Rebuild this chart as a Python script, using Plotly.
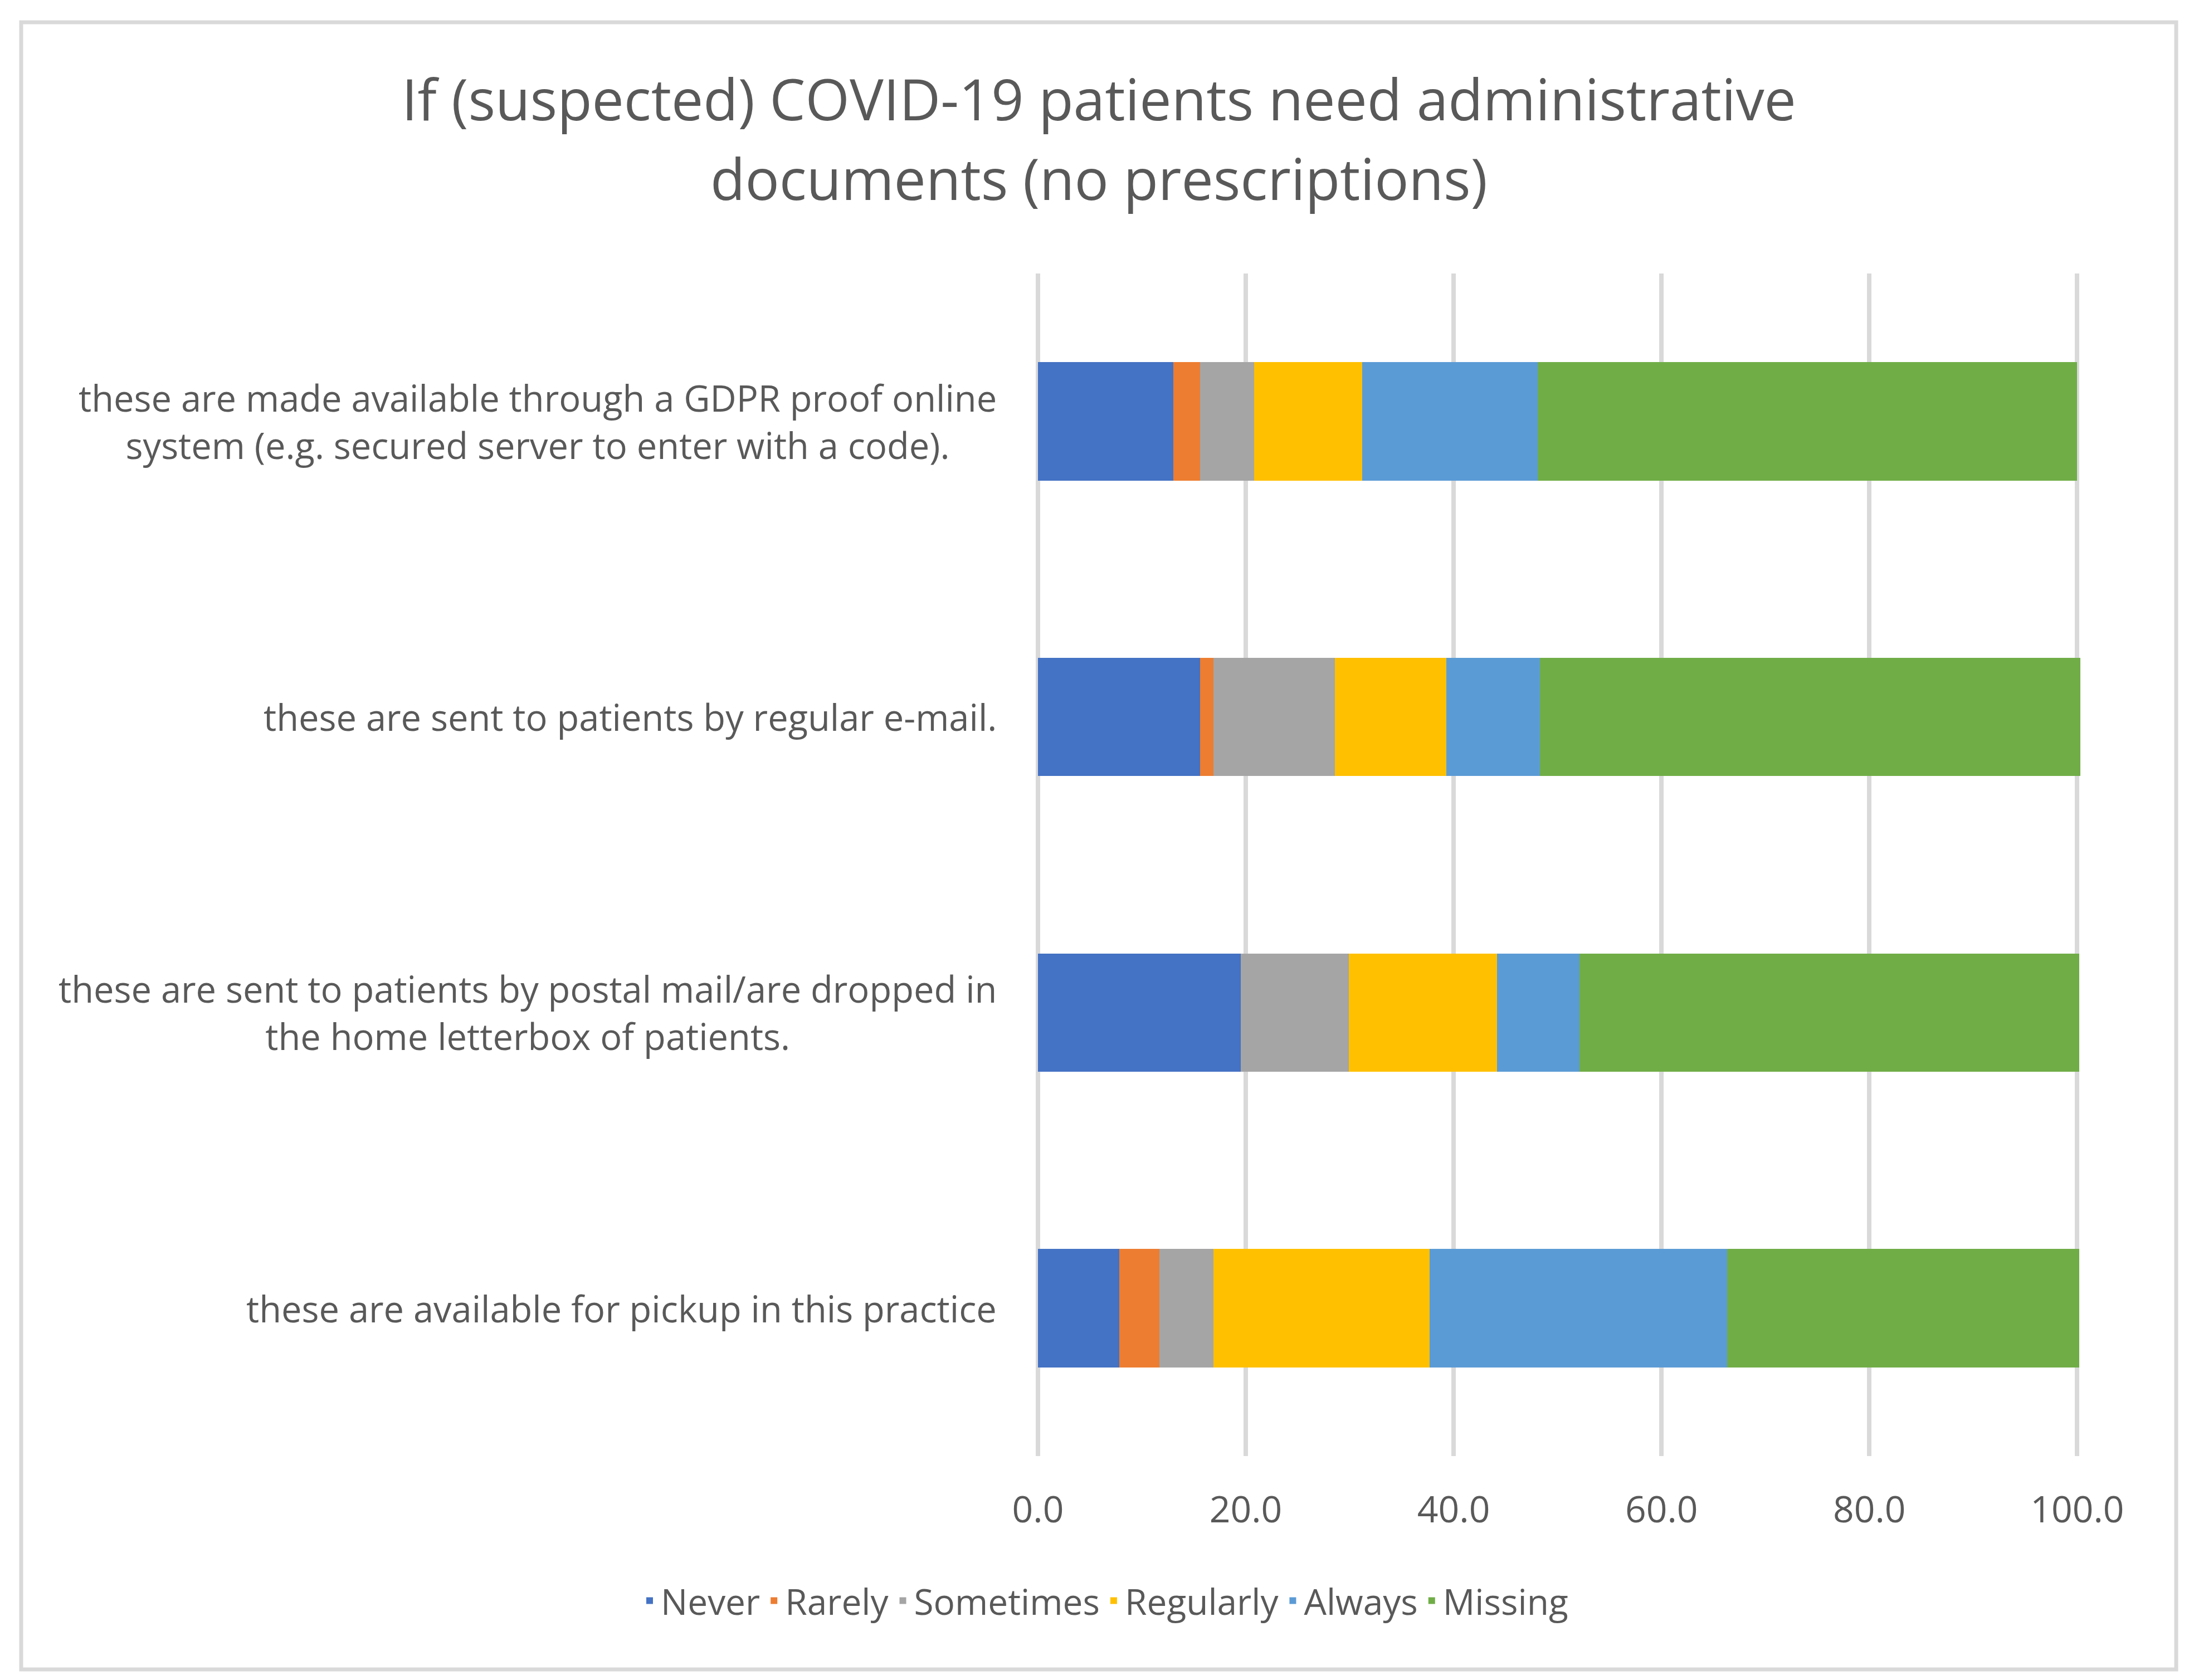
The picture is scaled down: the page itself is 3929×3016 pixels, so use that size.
import plotly.graph_objects as go

# ---- data ----
categories = [
    "these are made available through a GDPR proof online<br>system (e.g. secured server to enter with a code).",
    "these are sent to patients by regular e-mail.",
    "these are sent to patients by postal mail/are dropped in<br>the home letterbox of patients.",
    "these are available for pickup in this practice",
]
series_names = ["Never", "Rarely", "Sometimes", "Regularly", "Always", "Missing"]
never = [13.0, 15.6, 19.5, 7.8]
rarely = [2.6, 1.3, 0.0, 3.9]
sometimes = [5.2, 11.7, 10.4, 5.2]
regularly = [10.4, 10.7, 14.3, 20.8]
always = [16.9, 9.0, 7.9, 28.6]
missing = [51.9, 52.0, 48.1, 33.9]
x_ticks = [0, 20, 40, 60, 80, 100]
title_lines = ["If (suspected) COVID-19 patients need administrative",
               "documents (no prescriptions)"]

colors = ["#4472C4", "#ED7D31", "#A5A5A5", "#FFC000", "#5B9BD5", "#70AD47"]
values = [never, rarely, sometimes, regularly, always, missing]

W, H = 3929, 3016
X_MAX = 101
L, T, B = 1855, 483, 410
PW = round((3720 - L) * X_MAX / 100)
R = W - L - PW
PH = H - T - B
TEXT = "#595959"
FONT = "Open Sans"


def px_x(px):
    return (px - L) / PW


def px_y(py):
    return (H - B - py) / PH


fig = go.Figure()
for name, vals, col in zip(series_names, values, colors):
    fig.add_trace(go.Bar(
        y=categories, x=vals, name=name, orientation="h",
        marker=dict(color=col, line=dict(width=0)),
        hoverinfo="x+name",
    ))

fig.update_layout(
    width=W, height=H,
    margin=dict(l=L, r=R, t=T, b=B, pad=0),
    barmode="stack", bargap=0.6,
    paper_bgcolor="white", plot_bgcolor="white",
    font=dict(family=FONT, color=TEXT, size=64),
    showlegend=True,
    legend=dict(orientation="h", x=px_x(1975), xanchor="center",
                y=px_y(2866), yanchor="middle",
                font=dict(size=64, color=TEXT, family=FONT),
                traceorder="normal", itemwidth=30),
)

fig.update_xaxes(
    range=[0, X_MAX], tickvals=x_ticks, tickformat=".1f",
    showgrid=True, gridcolor="#D9D9D9", gridwidth=8,
    zeroline=True, zerolinecolor="#D9D9D9", zerolinewidth=8,
    showline=False, ticks="",
    tickfont=dict(size=66, color=TEXT, family=FONT),
    ticklabelstandoff=52,
)
fig.update_yaxes(
    autorange="reversed", showticklabels=False, showgrid=False,
    showline=False, ticks="", zeroline=False,
)

# category labels (lines centred on each other, block right-aligned to the axis)
for cat in categories:
    fig.add_annotation(
        text=cat, xref="paper", yref="y", x=0, y=cat,
        xanchor="right", yanchor="middle", xshift=-72,
        showarrow=False, align="center",
        font=dict(size=65, color=TEXT, family=FONT),
    )

# title lines
for line, yc in zip(title_lines, [168, 312]):
    fig.add_annotation(
        text=line, xref="paper", yref="paper", x=px_x(1964), y=px_y(yc),
        xanchor="center", yanchor="middle", showarrow=False,
        font=dict(size=102, color=TEXT, family=FONT),
    )

# chart border
fig.add_shape(type="rect", xref="paper", yref="paper",
              x0=px_x(30), x1=px_x(3898), y0=px_y(2989), y1=px_y(32),
              line=dict(color="#D9D9D9", width=7), layer="below")

fig.write_html("out.html")
